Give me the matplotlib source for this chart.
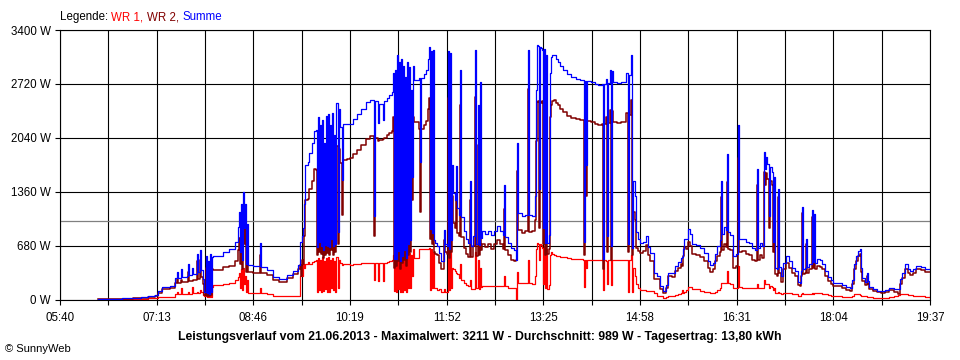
import matplotlib
matplotlib.use("Agg")

import numpy as np
import matplotlib.pyplot as plt
from matplotlib.ticker import FixedLocator, NullFormatter

plt.rcParams['font.family'] = ['Liberation Sans', 'DejaVu Sans']


def hm(s):
    h, m = s.split(':')
    return int(h) * 60 + int(m)


# achse / beschriftung
tick_labels = ['05:40', '07:13', '08:46', '10:19', '11:52',
               '13:25', '14:58', '16:31', '18:04', '19:37']
y_ticks = [0, 680, 1360, 2040, 2720, 3400]
average = 989  # Durchschnitt (graue Linie)

legend_parts = [('Legende: ', 'black'), ('WR 1, ', '#ff0000'),
                ('WR 2, ', '#800000'), ('Summe', '#0000ff')]
caption = ('Leistungsverlauf vom 21.06.2013 - Maximalwert: 3211 W - '
           'Durchschnitt: 989 W - Tagesertrag: 13,80 kWh')

# Messwerte: Minuten seit Mitternacht, Leistung in W
minutes = [
    377, 390, 400, 410, 418, 425, 431, 434, 438, 446, 451, 453, 454, 456, 457,
    462, 463, 464, 467, 468, 472, 473, 475, 476, 478, 479, 480, 481, 482, 483,
    484, 485, 486, 487, 497, 503, 508, 511, 512, 513, 514, 515, 516, 517, 518,
    519, 520, 521, 526, 532, 533, 539, 545, 551, 558, 564, 569, 571, 572, 573,
    574, 575, 576, 579, 580, 582, 584, 586, 587, 588, 589, 590, 591, 592, 593,
    594, 595, 596, 597, 598, 599, 600, 601, 602, 603, 604, 605, 606, 607, 608,
    609, 611, 612, 616, 619, 622, 626, 630, 634, 638, 642, 643, 646, 647, 651,
    652, 655, 657, 659, 660, 661, 662, 663, 664, 665, 666, 667, 668, 669, 670,
    671, 672, 673, 674, 675, 676, 677, 678, 679, 680, 681, 685, 686, 687, 690,
    692, 694, 695, 696, 697, 698, 699, 700, 701, 703, 705, 707, 709, 710, 712,
    713, 714, 715, 716, 717, 718, 720, 721, 722, 724, 725, 726, 729, 731, 733,
    734, 735, 737, 739, 740, 742, 743, 744, 745, 746, 749, 752, 755, 758, 760,
    763, 766, 767, 768, 771, 774, 777, 779, 780, 781, 784, 787, 790, 791, 794,
    797, 798, 799, 800, 801, 802, 803, 804, 805, 806, 807, 808, 809, 810, 811,
    812, 813, 815, 817, 819, 821, 824, 828, 832, 836, 840, 843, 844, 845, 846,
    847, 851, 855, 858, 861, 862, 863, 865, 866, 867, 869, 870, 871, 872, 876,
    880, 884, 885, 886, 887, 889, 890, 891, 893, 894, 896, 898, 901, 904, 906,
    908, 911, 914, 917, 920, 923, 925, 929, 932, 935, 937, 938, 939, 940, 942,
    944, 946, 948, 952, 956, 960, 963, 965, 968, 970, 972, 975, 976, 977, 979,
    981, 982, 983, 985, 987, 990, 992, 993, 996, 1000, 1003, 1006, 1009, 1011, 1012,
    1013, 1015, 1017, 1018, 1019, 1020, 1022, 1023, 1025, 1026, 1027, 1028, 1030, 1031, 1032,
    1034, 1036, 1038, 1041, 1044, 1047, 1050, 1052, 1053, 1054, 1055, 1057, 1058, 1059, 1061,
    1063, 1064, 1065, 1066, 1068, 1071, 1073, 1076, 1079, 1082, 1084, 1088, 1092, 1096, 1100,
    1102, 1104, 1106, 1108, 1110, 1111, 1112, 1114, 1116, 1117, 1118, 1122, 1126, 1130, 1134,
    1138, 1142, 1146, 1148, 1150, 1153, 1156, 1158, 1161, 1164, 1168, 1172, 1175, 1177,
]

wr1 = [
    2, 3, 5, 8, 12, 15, 20, 28, 28, 30, 66, 90, 66, 140, 70,
    75, 100, 75, 160, 80, 100, 85, 120, 90, 60, 40, 150, 30, 140, 30,
    150, 35, 160, 183, 195, 212, 240, 288, 330, 150, 380, 120, 400, 200, 300,
    100, 250, 78, 80, 150, 85, 65, 44, 40, 45, 44, 50, 300, 420, 300,
    450, 400, 450, 470, 450, 470, 480, 500, 100, 520, 120, 500, 90, 540, 110,
    480, 130, 520, 90, 540, 100, 500, 140, 520, 120, 480, 100, 540, 150, 500,
    460, 440, 450, 445, 440, 445, 450, 455, 460, 460, 250, 460, 230, 455, 230,
    460, 470, 480, 504, 560, 110, 600, 90, 620, 130, 600, 100, 620, 90, 580,
    120, 560, 100, 600, 140, 590, 150, 560, 300, 640, 525, 640, 640, 640, 640,
    640, 640, 650, 126, 640, 140, 600, 150, 140, 120, 130, 100, 130, 100, 90,
    600, 120, 650, 150, 400, 380, 360, 340, 320, 270, 450, 250, 210, 180, 170,
    250, 130, 130, 600, 150, 500, 130, 400, 160, 168, 170, 165, 170, 170, 168,
    168, 168, 300, 165, 150, 147, 147, 0, 350, 210, 210, 210, 500, 210, 190,
    300, 640, 714, 700, 500, 700, 690, 650, 200, 680, 150, 640, 130, 180, 560,
    600, 580, 560, 550, 546, 540, 530, 520, 515, 510, 505, 504, 160, 504, 400,
    504, 504, 504, 504, 504, 126, 504, 480, 200, 504, 504, 180, 504, 504, 504,
    500, 504, 504, 100, 504, 560, 90, 400, 300, 200, 150, 126, 120, 110, 106,
    106, 84, 42, 42, 21, 30, 42, 42, 60, 75, 84, 120, 84, 100, 120,
    156, 156, 127, 127, 110, 100, 90, 84, 84, 90, 120, 150, 211, 211, 211,
    211, 359, 211, 200, 148, 148, 422, 160, 148, 148, 150, 148, 148, 200, 148,
    148, 150, 250, 200, 200, 190, 150, 170, 160, 120, 150, 84, 84, 100, 84,
    70, 80, 84, 84, 70, 64, 45, 42, 64, 80, 64, 64, 70, 64, 70,
    80, 75, 80, 85, 85, 85, 70, 64, 60, 45, 42, 38, 34, 34, 34,
    45, 64, 70, 64, 55, 50, 45, 40, 34, 34, 30, 25, 21, 21, 25,
    30, 40, 60, 64, 64, 64, 60, 55, 45, 40, 38, 36, 34, 34,
]

wr2 = [
    4, 6, 9, 14, 20, 28, 38, 80, 130, 140, 205, 260, 210, 250, 220,
    225, 350, 230, 235, 245, 480, 260, 500, 280, 200, 60, 400, 50, 350, 40,
    420, 60, 380, 372, 405, 423, 490, 625, 780, 450, 820, 380, 960, 700, 900,
    350, 700, 351, 340, 560, 330, 310, 246, 217, 270, 320, 390, 430, 300, 500,
    450, 800, 1250, 1270, 1400, 1500, 1650, 1640, 560, 1780, 600, 1700, 580, 1730, 520,
    1500, 560, 1800, 590, 1800, 560, 1700, 620, 1830, 560, 1600, 600, 1940, 700, 1900,
    1720, 1070, 1760, 1770, 1780, 1830, 1890, 1950, 2030, 2060, 800, 2040, 2000, 2010, 2030,
    2040, 2070, 2100, 2120, 2300, 400, 2300, 420, 2460, 480, 2400, 380, 2420, 460, 2360,
    500, 2250, 420, 2400, 560, 2340, 600, 2080, 1250, 2300, 2245, 2150, 1100, 2150, 2200,
    2250, 2400, 2540, 760, 2500, 700, 2550, 600, 570, 560, 460, 380, 750, 600, 580,
    2540, 520, 2460, 600, 1300, 960, 900, 1340, 840, 800, 2450, 790, 650, 580, 540,
    1250, 540, 670, 2550, 550, 1950, 560, 2350, 620, 700, 660, 700, 640, 700, 755,
    700, 640, 1148, 620, 560, 500, 480, 500, 1620, 880, 840, 860, 2650, 850, 860,
    1000, 2000, 2497, 2500, 900, 2490, 2480, 2500, 700, 2480, 560, 2450, 580, 640, 2300,
    2460, 2500, 2520, 2480, 2454, 2400, 2360, 2320, 2290, 2275, 2265, 2260, 560, 2250, 1300,
    2250, 2240, 2220, 2200, 2210, 380, 2210, 2300, 600, 2230, 2390, 500, 2380, 2240, 2230,
    2240, 2240, 2350, 600, 2330, 2520, 560, 1100, 1000, 650, 610, 590, 610, 690, 560,
    485, 254, 254, 127, 85, 150, 296, 290, 360, 400, 443, 420, 550, 660, 640,
    730, 670, 570, 560, 540, 490, 400, 350, 380, 480, 550, 600, 1290, 620, 700,
    660, 1478, 640, 620, 400, 420, 1780, 600, 610, 580, 560, 500, 480, 1447, 500,
    560, 520, 1608, 1450, 1595, 1520, 900, 1500, 1445, 600, 1400, 317, 300, 1294, 330,
    226, 380, 465, 400, 330, 300, 180, 170, 300, 1089, 320, 330, 695, 340, 380,
    1046, 400, 1000, 380, 425, 416, 380, 300, 230, 200, 170, 165, 150, 120, 110,
    200, 380, 480, 550, 580, 350, 230, 180, 300, 200, 130, 110, 90, 85, 100,
    120, 95, 70, 190, 270, 382, 330, 306, 340, 385, 370, 350, 345, 345,
]

summe = np.array(wr1) + np.array(wr2)

fig = plt.figure(figsize=(9.6, 3.6), dpi=100)
ax = fig.add_axes([60 / 960, 60.5 / 360, 870 / 960, 269.5 / 360])

t0, t1 = hm(tick_labels[0]), hm(tick_labels[-1])
major = [hm(s) for s in tick_labels]
minor = [(a + b) / 2 for a, b in zip(major[:-1], major[1:])]

ax.set_xlim(t0, t1)
ax.set_ylim(0, y_ticks[-1])
ax.xaxis.set_major_locator(FixedLocator(major))
ax.xaxis.set_minor_locator(FixedLocator(minor))
ax.xaxis.set_minor_formatter(NullFormatter())
ax.set_xticklabels(tick_labels)
ax.set_yticks(y_ticks)
ax.set_yticklabels([f'{v} W' for v in y_ticks])

ax.grid(which='both', color='black', lw=0.8, zorder=0)
ax.set_axisbelow(True)
ax.tick_params(which='both', direction='out', length=3.8, width=0.8,
               color='black', labelsize=8.3, pad=3)
ax.tick_params(axis='x', pad=5)
for sp in ax.spines.values():
    sp.set_color('black')
    sp.set_linewidth(0.8)

ax.axhline(average, color='#808080', lw=0.9, zorder=1)

ax.plot(minutes, wr1, color='#ff0000', lw=0.9, drawstyle='steps-post', zorder=2)
ax.plot(minutes, wr2, color='#800000', lw=1.1, drawstyle='steps-post', zorder=3)
ax.plot(minutes, summe, color='#0000ff', lw=0.9, drawstyle='steps-post', zorder=4)

# Legende oben links, mehrfarbig
renderer = fig.canvas.get_renderer()
x = 60 / 960
for txt, col in legend_parts:
    t = fig.text(x, 1 - 17 / 360, txt, color=col, fontsize=8.3, va='center', ha='left')
    bb = t.get_window_extent(renderer=renderer)
    x += bb.width / 960

fig.text(0.5, 1 - 337 / 360, caption, fontsize=8.8, fontweight='bold',
         ha='center', va='center')
fig.text(5 / 960, 1 - 349 / 360, '\u00a9 SunnyWeb', fontsize=8,
         ha='left', va='center')

fig.savefig('out.png', dpi=100, facecolor='white')
